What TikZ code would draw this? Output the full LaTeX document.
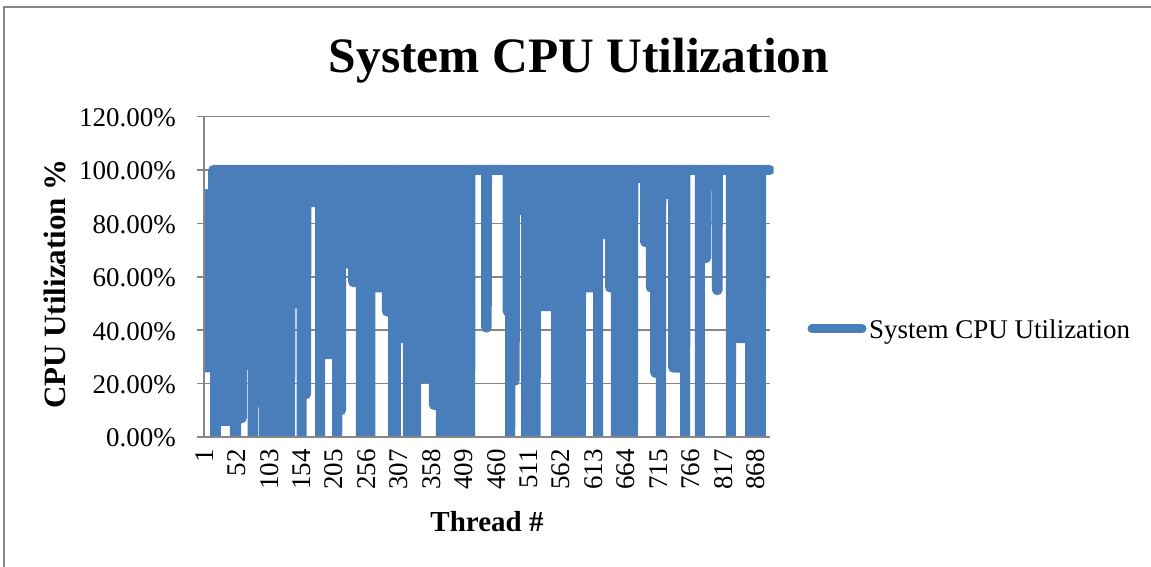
\documentclass[tikz,border=0pt]{standalone}
\usepackage{fontspec}
\setmainfont{Liberation Serif}
\usetikzlibrary{positioning}

\definecolor{seriesblue}{RGB}{74,126,187}
\definecolor{chartgray}{RGB}{134,134,134}

\begin{document}
\begin{tikzpicture}[
  x=1pt, y=1pt,
  gridline/.style={chartgray, line width=1.5pt},
  series/.style={seriesblue, line width=10pt, line join=round, line cap=round},
  ticklabel/.style={font=\fontsize{27}{30}\selectfont, inner sep=0pt},
  axistitle/.style={font=\fontsize{29}{32}\selectfont\bfseries, inner sep=0pt}
]
\clip (0,0) rectangle (1151,567);

% chart frame
\draw[chartgray, line width=1.5pt] (4,-20) rectangle (1170,560);

\node (title) [anchor=base, font=\fontsize{49.5}{55}\selectfont\bfseries] at (579,494) {System CPU Utilization};

\begin{scope}[shift={(203.68pt,130pt)}, x=0.636pt, y=2.67pt]
  % grid and value labels
  \foreach \p in {0,20,...,120} {
    \draw[gridline] ([xshift=-7pt]0.5,\p) -- (890.5,\p);
    \node (ylab\p) [ticklabel, anchor=base east] at ([xshift=-28pt, yshift=-10pt]0.5,\p) {\p.00\%};
  }

  % thread labels
  \foreach \thr in {1,52,...,868}
    \node (xlab\thr) [ticklabel, rotate=90, anchor=east] at ([yshift=-12pt]\thr,0) {\thr};

  % series: thread ranges that swing between 100% and a low value
  \begin{scope}
    \clip (0.5,0) rectangle (896,130);
    \draw[series] (1,91) -- (2,26) -- (4,91) -- (6,26) -- (8,91) -- (10,26) -- (12,91) -- (14,26)
      \foreach \ta/\tb/\lo in {15/18/26, 18/19/0, 19/49/6, 49/51/0, 51/60/7, 60/77/27, 77/78/0,
          78/95/13, 95/136/0, 136/154/50, 154/154/0, 154/161/16, 161/183/88, 183/183/0,
          183/210/31, 210/210/0, 210/216/10, 216/235/65, 235/247/58, 247/262/0, 262/288/56,
          288/298/47, 298/302/0, 302/321/37, 321/334/0, 334/362/22, 362/373/12, 373/419/0,
          444/445/41, 478/482/47, 482/482/0, 482/489/21, 489/507/85, 507/522/0, 522/554/49,
          554/593/0, 593/620/56, 620/620/0, 620/639/76, 639/648/56, 648/675/0, 675/694/97,
          694/703/73, 703/710/56, 710/719/24, 719/719/0, 719/738/91, 738/757/26, 757/757/0,
          780/780/0, 780/790/67, 790/807/94, 807/808/55, 829/829/0, 829/859/37, 859/876/0} {
        -- (\ta,100)
        \foreach \thr in {\ta,...,\tb} { -- (\thr,\lo) -- (\thr+0.5,100) }
      }
      -- (890,100);
  \end{scope}

  % axes
  \draw[gridline] ([xshift=-7pt]0.5,0) -- (890.5,0);
  \draw[gridline] (0.5,0) -- (0.5,120);
\end{scope}

\node (ytitle) [axistitle, font=\fontsize{31}{34}\selectfont\bfseries, rotate=90] at (55,283) {CPU Utilization \%};
\node (xtitle) [axistitle, anchor=base] at (487,35) {Thread \#};

% legend
\node (legend) [ticklabel, anchor=base west] at (869,228) {System CPU Utilization};
\path (legend.base west) ++(-7pt,10pt) coordinate (legend end);
\draw[series, line width=9pt] (legend end) -- ++(-50pt,0);
\end{tikzpicture}
\end{document}
